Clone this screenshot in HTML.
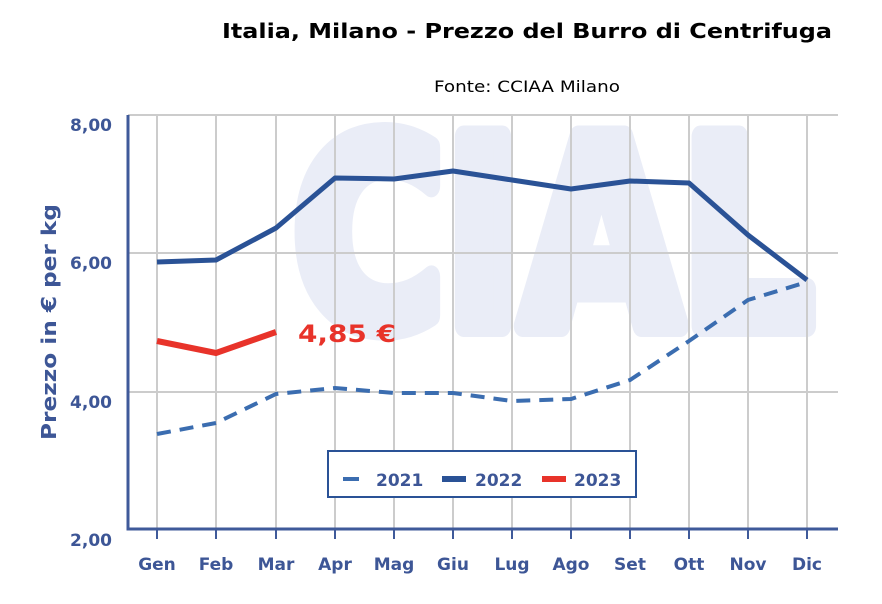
<!DOCTYPE html>
<html><head><meta charset="utf-8"><style>
body{margin:0;background:#fff;}
svg{display:block;}
text{font-family:"DejaVu Sans","Liberation Sans",sans-serif;}
</style></head><body>
<svg width="882" height="604" viewBox="0 0 882 604" xmlns="http://www.w3.org/2000/svg">
<text x="222" y="38" font-size="20" font-weight="bold" fill="#000" textLength="610" lengthAdjust="spacingAndGlyphs">Italia, Milano - Prezzo del Burro di Centrifuga</text>
<text x="434" y="92" font-size="16" fill="#000" textLength="186" lengthAdjust="spacingAndGlyphs">Fonte: CCIAA Milano</text>
<text x="553" y="326" text-anchor="middle" font-size="260" font-weight="bold" fill="#eaedf7" stroke="#eaedf7" stroke-width="22" stroke-linejoin="round" textLength="520" lengthAdjust="spacingAndGlyphs">CIAL</text>
<g stroke="#cccccc" stroke-width="2">
<line x1="128" y1="115" x2="838" y2="115"/><line x1="128" y1="253" x2="838" y2="253"/><line x1="128" y1="392" x2="838" y2="392"/>
<line x1="157" y1="115" x2="157" y2="529"/><line x1="216" y1="115" x2="216" y2="529"/><line x1="276" y1="115" x2="276" y2="529"/><line x1="335" y1="115" x2="335" y2="529"/><line x1="394" y1="115" x2="394" y2="529"/><line x1="453" y1="115" x2="453" y2="529"/><line x1="512" y1="115" x2="512" y2="529"/><line x1="571" y1="115" x2="571" y2="529"/><line x1="630" y1="115" x2="630" y2="529"/><line x1="689" y1="115" x2="689" y2="529"/><line x1="748" y1="115" x2="748" y2="529"/><line x1="807" y1="115" x2="807" y2="529"/>
</g>
<g stroke="#3f5a9a" stroke-width="2">
<line x1="157" y1="529" x2="157" y2="539"/><line x1="216" y1="529" x2="216" y2="539"/><line x1="276" y1="529" x2="276" y2="539"/><line x1="335" y1="529" x2="335" y2="539"/><line x1="394" y1="529" x2="394" y2="539"/><line x1="453" y1="529" x2="453" y2="539"/><line x1="512" y1="529" x2="512" y2="539"/><line x1="571" y1="529" x2="571" y2="539"/><line x1="630" y1="529" x2="630" y2="539"/><line x1="689" y1="529" x2="689" y2="539"/><line x1="748" y1="529" x2="748" y2="539"/><line x1="807" y1="529" x2="807" y2="539"/>
</g>
<polyline points="157,434 216,423 276,394 335,388 394,393 453,393 512,401 571,399 630,380 689,341 748,300 807,282" fill="none" stroke="#3b6db0" stroke-width="4" stroke-dasharray="14,9"/>
<polyline points="157,262 216,260 276,228 335,178 394,179 453,171 512,180 571,189 630,181 689,183 748,235 807,280" fill="none" stroke="#2a5296" stroke-width="5" stroke-linejoin="round"/>
<polyline points="157,341 216,353 276,332" fill="none" stroke="#e8332a" stroke-width="6"/>
<text x="298" y="342" font-size="24" font-weight="bold" fill="#e8332a" textLength="98" lengthAdjust="spacingAndGlyphs">4,85 €</text>
<path d="M128,115 V529 H838" fill="none" stroke="#3f5a9a" stroke-width="3"/>
<g font-size="17" font-weight="bold" fill="#3d5696" text-anchor="end">
<text x="112" y="131">8,00</text><text x="112" y="269">6,00</text><text x="112" y="408">4,00</text><text x="112" y="546">2,00</text>
</g>
<g font-size="17" font-weight="bold" fill="#3d5696" text-anchor="middle">
<text x="157" y="570">Gen</text><text x="216" y="570">Feb</text><text x="276" y="570">Mar</text><text x="335" y="570">Apr</text><text x="394" y="570">Mag</text><text x="453" y="570">Giu</text><text x="512" y="570">Lug</text><text x="571" y="570">Ago</text><text x="630" y="570">Set</text><text x="689" y="570">Ott</text><text x="748" y="570">Nov</text><text x="807" y="570">Dic</text>
</g>
<text transform="translate(56,322) rotate(-90)" text-anchor="middle" font-size="20" font-weight="bold" fill="#3d5696" textLength="236" lengthAdjust="spacingAndGlyphs">Prezzo in € per kg</text>
<rect x="328" y="451" width="308" height="46" fill="#fff" stroke="#2a5296" stroke-width="2"/>
<rect x="343" y="477" width="16" height="4" fill="#3b6db0"/>
<text x="376" y="486" font-size="17" font-weight="bold" fill="#3d5696">2021</text>
<rect x="442" y="476" width="24" height="6" fill="#2a5296"/>
<text x="475" y="486" font-size="17" font-weight="bold" fill="#3d5696">2022</text>
<rect x="542" y="476" width="24" height="6" fill="#e8332a"/>
<text x="574" y="486" font-size="17" font-weight="bold" fill="#3d5696">2023</text>
</svg>
</body></html>
